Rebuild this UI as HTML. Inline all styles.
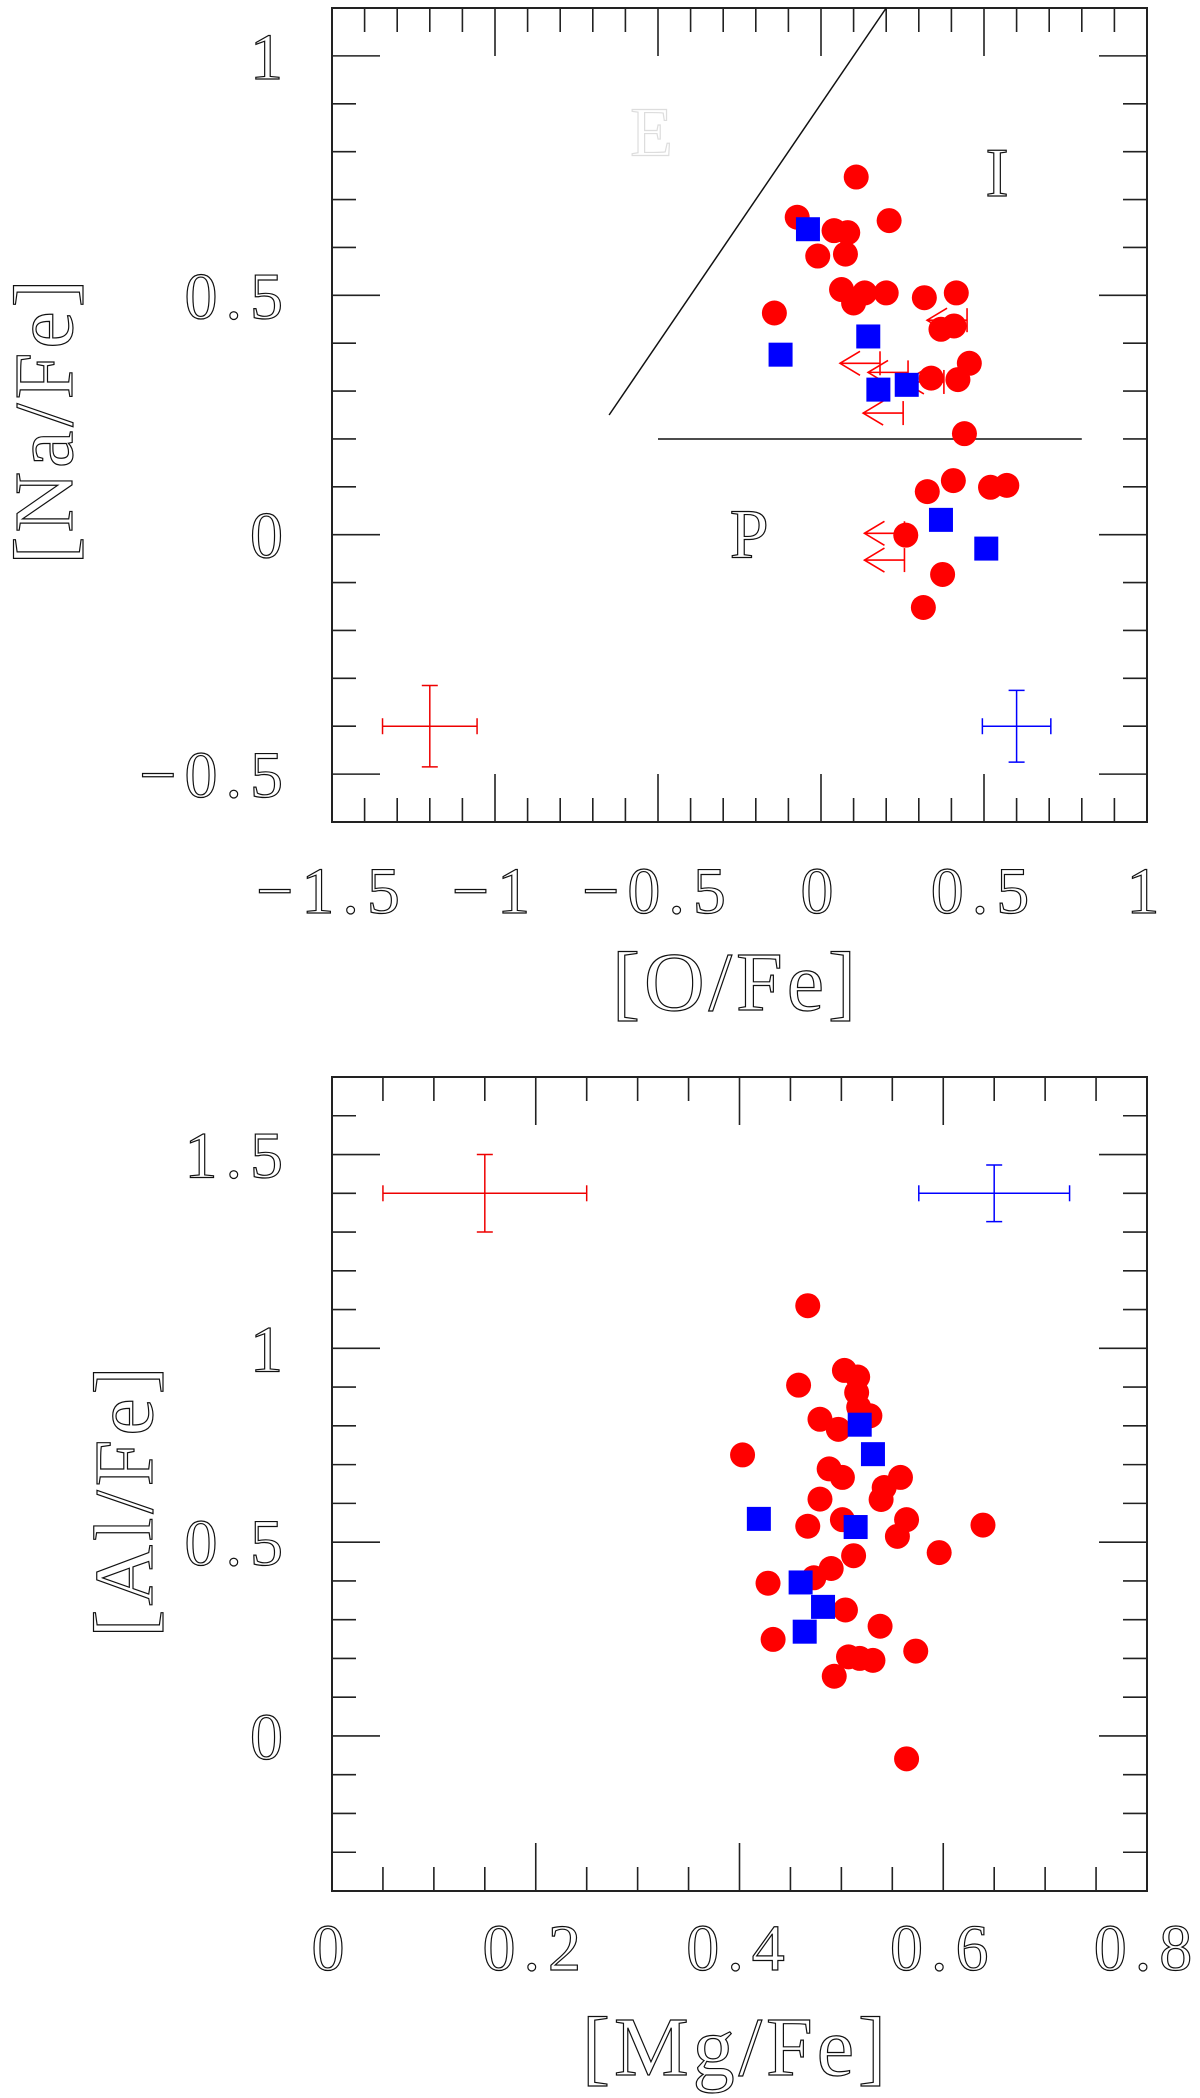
<!DOCTYPE html>
<html><head><meta charset="utf-8"><style>
html,body{margin:0;padding:0;background:#fff;}
svg{display:block;}
text{font-family:"Liberation Serif",serif;}
</style></head><body>
<svg id="fig" width="1200" height="2098" viewBox="0 0 1200 2098" xmlns="http://www.w3.org/2000/svg"></svg>
<script>
// ---- Panel 1 data: [O/Fe] vs [Na/Fe]
const naRedX=[0.108,-0.073,0.04,0.082,0.209,-0.01,0.075,0.063,0.134,0.1,0.2,0.317,0.415,-0.143,0.368,0.408,0.338,0.42,0.455,0.44,0.326,0.406,0.52,0.57,0.26,0.373,0.314];
const naRedY=[0.747,0.663,0.635,0.631,0.656,0.582,0.586,0.512,0.505,0.484,0.505,0.495,0.505,0.463,0.429,0.436,0.327,0.324,0.358,0.211,0.09,0.113,0.099,0.103,-0.001,-0.083,-0.152];
const naBlueX=[-0.04,-0.124,0.145,0.176,0.263,0.368,0.507];
const naBlueY=[0.638,0.376,0.414,0.303,0.313,0.031,-0.029];
const limX=[0.181,0.267,0.252,0.377,0.448,0.256,0.256];
const limY=[0.358,0.339,0.254,0.319,0.448,0.003,-0.053];
const xTicks1=["−1.5","−1","−0.5","0","0.5","1"];
const xTickVals1=[-1.5,-1,-0.5,0,0.5,1];
const yTicks1=["−0.5","0","0.5","1"];
const yTickVals1=[-0.5,0,0.5,1];
// ---- Panel 2 data: [Mg/Fe] vs [Al/Fe]
const alRedX=[0.467,0.458,0.503,0.516,0.515,0.517,0.528,0.479,0.497,0.403,0.488,0.501,0.558,0.542,0.539,0.479,0.501,0.467,0.564,0.555,0.639,0.596,0.512,0.49,0.473,0.428,0.504,0.538,0.433,0.573,0.507,0.518,0.531,0.493,0.564];
const alRedY=[1.11,0.905,0.943,0.926,0.886,0.848,0.826,0.817,0.791,0.725,0.689,0.667,0.667,0.641,0.61,0.611,0.558,0.541,0.558,0.515,0.544,0.473,0.465,0.432,0.408,0.394,0.325,0.283,0.249,0.219,0.204,0.2,0.195,0.154,-0.059];
const alBlueX=[0.518,0.531,0.419,0.514,0.46,0.482,0.464];
const alBlueY=[0.803,0.727,0.56,0.539,0.396,0.333,0.269];
const xTicks2=["0","0.2","0.4","0.6","0.8"];
const xTickVals2=[0,0.2,0.4,0.6,0.8];
const yTicks2=["0","0.5","1","1.5"];
const yTickVals2=[0,0.5,1,1.5];

const NS="http://www.w3.org/2000/svg";
const svg=document.getElementById('fig');
function mk(tag,attrs,parent){const e=document.createElementNS(NS,tag);for(const k in attrs)e.setAttribute(k,attrs[k]);(parent||svg).appendChild(e);return e;}
function txt(s,x,y,size,anchor,parent,color,ls){
  const g=mk('g',{transform:`translate(${x},${y})`},parent);
  const t=mk('text',{x:0,y:0,'font-size':size,'text-anchor':anchor,fill:'#fff',stroke:color||'#111','stroke-width':1.2,'letter-spacing':ls||0},g);
  t.textContent=s;return t;
}
function panel(cfg){
  const g=mk('g',{});
  
  
  const sx=v=>cfg.L+(v-cfg.x0)/(cfg.x1-cfg.x0)*(cfg.R-cfg.L);
  const sy=v=>cfg.B-(v-cfg.y0)/(cfg.y1-cfg.y0)*(cfg.B-cfg.T);
  const frame=mk('rect',{x:cfg.L,y:cfg.T,width:cfg.R-cfg.L,height:cfg.B-cfg.T,fill:'none',stroke:'#222','stroke-width':2},g);
  
  
  const n1=Math.round((cfg.x1-cfg.x0)/cfg.xm);
  for(let i=0;i<=n1;i++){const v=cfg.x0+i*cfg.xm;const maj=Math.abs(v/cfg.xM-Math.round(v/cfg.xM))<1e-6;const len=maj?48:24;const x=sx(v);
    mk('line',{x1:x,y1:cfg.B,x2:x,y2:cfg.B-len,stroke:'#222','stroke-width':1.6},g);
    mk('line',{x1:x,y1:cfg.T,x2:x,y2:cfg.T+len,stroke:'#222','stroke-width':1.6},g);}
  const n2=Math.round((cfg.y1-cfg.y0)/cfg.ym);
  for(let i=0;i<=n2;i++){const v=cfg.y0+i*cfg.ym;const maj=Math.abs(v/cfg.yM-Math.round(v/cfg.yM))<1e-6;const len=maj?48:24;const y=sy(v);
    mk('line',{x1:cfg.L,y1:y,x2:cfg.L+len,y2:y,stroke:'#222','stroke-width':1.6},g);
    mk('line',{x1:cfg.R,y1:y,x2:cfg.R-len,y2:y,stroke:'#222','stroke-width':1.6},g);}
  cfg.xl.forEach((s,i)=>{const t=txt(s,sx(cfg.xv[i]),cfg.xlabY,66,'middle',g,null,8);});
  cfg.yl.forEach((s,i)=>{const t=txt(s,291,sy(cfg.yv[i])+23,66,'end',g,null,8);});
  return {g,sx,sy};
}
function errbar(p,x,y,dx,dy,color,name){
  const g=mk('g',{stroke:color,'stroke-width':1.5},p.g);
  
  
  const X=p.sx(x),Y=p.sy(y),x1=p.sx(x-dx),x2=p.sx(x+dx),y1=p.sy(y+dy),y2=p.sy(y-dy);
  mk('line',{x1:x1,y1:Y,x2:x2,y2:Y},g);mk('line',{x1:X,y1:y1,x2:X,y2:y2},g);
  mk('line',{x1:x1,y1:Y-8,x2:x1,y2:Y+8},g);mk('line',{x1:x2,y1:Y-8,x2:x2,y2:Y+8},g);
  mk('line',{x1:X-8,y1:y1,x2:X+8,y2:y1},g);mk('line',{x1:X-8,y1:y2,x2:X+8,y2:y2},g);
}
function points(p,xs,ys,color,shape){
  xs.forEach((v,i)=>{const X=p.sx(v),Y=p.sy(ys[i]);let e;
    if(shape==='c'){e=mk('circle',{cx:X,cy:Y,r:12.5,fill:color},p.g);
      }
    else{e=mk('rect',{x:X-12,y:Y-12,width:24,height:24,fill:color},p.g);
      }
    });
}
// Panel 1
const p1=panel({name:'na-o-panel',L:332,R:1147,T:8,B:822,x0:-1.5,x1:1,y0:-0.6,y1:1.1,xm:0.1,xM:0.5,ym:0.1,yM:0.5,xl:xTicks1,xv:xTickVals1,yl:yTicks1,yv:yTickVals1,xlabY:913});
const dl=mk('line',{x1:p1.sx(-0.65),y1:p1.sy(0.25),x2:p1.sx(0.2),y2:p1.sy(1.1),stroke:'#111','stroke-width':1.5},p1.g);


const hl=mk('line',{x1:p1.sx(-0.5),y1:p1.sy(0.2),x2:p1.sx(0.8),y2:p1.sy(0.2),stroke:'#111','stroke-width':1.5},p1.g);


let t;
t=txt('E',p1.sx(-0.52),p1.sy(0.84)+23,70,'middle',p1.g,'#ddd');
t=txt('I',p1.sx(0.54),p1.sy(0.755)+23,70,'middle',p1.g);
t=txt('P',p1.sx(-0.22),p1.sy(0.0)+23,70,'middle',p1.g);
limX.forEach((v,i)=>{const X=p1.sx(v),Y=p1.sy(limY[i]);const g=mk('g',{stroke:'#f00','stroke-width':1.6,fill:'none'},p1.g);
  
  
  mk('line',{x1:X,y1:Y-12,x2:X,y2:Y+12},g);mk('line',{x1:X,y1:Y,x2:X-40,y2:Y},g);
  mk('polyline',{points:`${X-20},${Y-12} ${X-40},${Y} ${X-20},${Y+12}`},g);});
points(p1,naRedX,naRedY,'#ff0000','c');
points(p1,naBlueX,naBlueY,'#0000ff','s');
errbar(p1,-1.2,-0.4,0.145,0.085,'#e00','red-error-bar');
errbar(p1,0.6,-0.4,0.105,0.075,'#00f','blue-error-bar');
t=txt('[O/Fe]',736,1010,84,'middle',null,null,4);
(function(){const g=mk('g',{transform:'translate(72,420) rotate(-90)'});const tt=txt('[Na/Fe]',0,0,84,'middle',g,null,4);})();
// Panel 2
const p2=panel({name:'al-mg-panel',L:332,R:1147,T:1077,B:1891,x0:0,x1:0.8,y0:-0.4,y1:1.7,xm:0.05,xM:0.2,ym:0.1,yM:0.5,xl:xTicks2,xv:xTickVals2,yl:yTicks2,yv:yTickVals2,xlabY:1970});
points(p2,alRedX,alRedY,'#ff0000','c');
points(p2,alBlueX,alBlueY,'#0000ff','s');
errbar(p2,0.15,1.4,0.1,0.1,'#e00','red-error-bar');
errbar(p2,0.65,1.4,0.074,0.073,'#00f','blue-error-bar');
t=txt('[Mg/Fe]',736,2075,84,'middle',null,null,4);
(function(){const g=mk('g',{transform:'translate(152,1500) rotate(-90)'});const tt=txt('[Al/Fe]',0,0,84,'middle',g,null,4);})();
</script>
</body></html>
